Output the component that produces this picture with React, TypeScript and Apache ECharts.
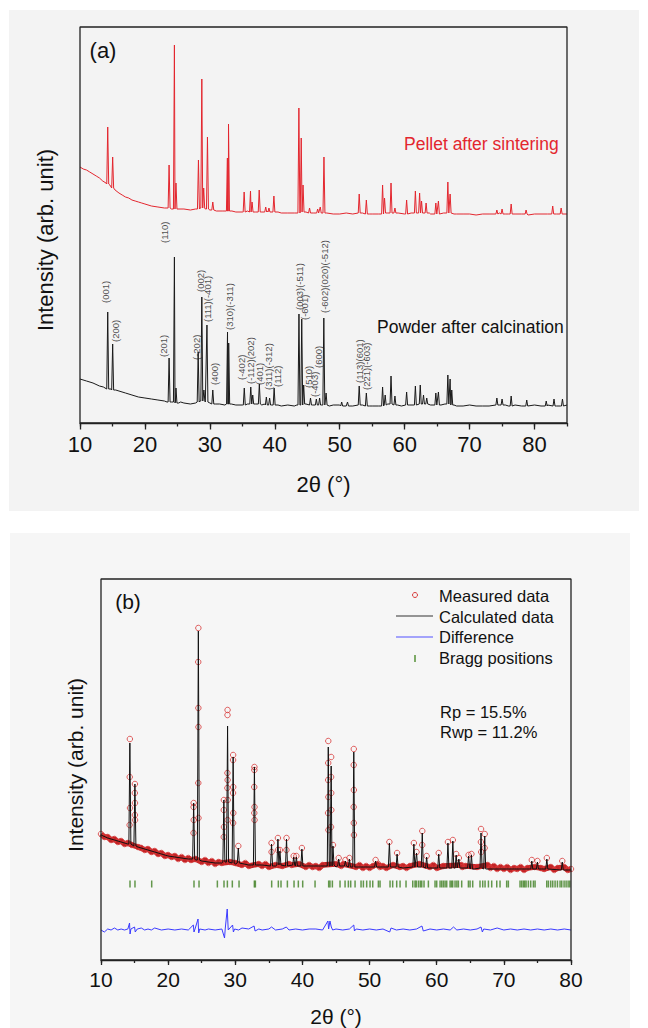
import { useEffect, useRef } from 'react';
import * as echarts from 'echarts';

type P = [number, number];
type Pk = [number, number, number];

// ---------- Panel (a) ----------
const pelletBase: P[] = [
  [10,256],[10.5,254],[11,253],[11.5,251],[12,249],[12.5,247],[13,245],[13.5,242],[14,240],[14.6,238],[15.4,233],[16,230],[16.5,228],[17,226],[17.5,225],[18,223],[18.5,222],[19,221],[19.5,220],[20,219],[21,217],[22,216],[23,215],[23.4,215],[24.1,214],[25,214],[26,214],[27,213],[27.8,214],[28.5,215],[29.3,214],[30,213],[31,212],[32,212],[33.4,212],[34,211],[35,211],[35.8,212],[37,211],[38,211],[38.9,212],[40.5,211],[41,210],[42,210],[43,210],[44.8,211],[46,210],[47.2,210],[48,210],[49,209],[50,209],[51,210],[52,209],[53.5,210],[54.6,209],[55,209],[56,209],[57.4,210],[59,210],[60,209],[61,210],[63.8,210],[64,209],[66,210],[67.6,209],[68,209],[69,209],[70,209],[71,208],[72,209],[73,209],[74.6,210],[75.5,209],[76,209],[77,209],[78,209],[79,208],[80,209],[81,209],[82,209],[83.4,209],[84,209],[85,209]
];
const pelletPeaks: Pk[] = [
  [14.27,296,239],[15.03,266,235],[23.72,258,215],[24.54,378,214],[24.78,240,214],[28.24,263,214],[28.76,344,215],[29.05,235,215],[29.63,286,214],[30.45,221,213],[32.7,265,212],[32.87,299,212],[35.28,231,211],[36.26,232,211],[36.5,221,211],[37.6,233,211],[38.6,216,211],[39.1,215,211],[39.86,227,211],[43.71,315,210],[44.07,285,211],[44.35,238,211],[45.35,215,210],[46.6,214,210],[47.0,216,210],[47.57,266,210],[53.0,229,210],[54.1,223,209],[56.6,238,209],[56.9,225,210],[57.9,240,210],[58.5,215,210],[60.3,223,209],[61.65,232,210],[62.3,230,210],[62.6,222,210],[63.3,220,210],[64.8,220,209],[65.2,222,209],[66.65,241,210],[67.0,229,210],[74.2,213,209],[75.0,214,209],[76.4,219,209],[78.7,213,209],[82.8,217,209],[84.1,215,209]
];
const powderBase: P[] = [
  [10,44],[11,42],[12,40],[13,37],[13.6,36],[14.8,34],[15.5,33],[16,32],[17,30],[18,28],[19,26],[20,25],[21,24],[22,23],[23,22],[23.4,21],[24.1,21],[25.2,20],[25.5,21],[26,20],[27,19],[27.8,20],[28.5,22],[29.3,21],[30,20],[30.9,19],[31.5,19],[32.3,18],[33.3,19],[34,18],[35,18],[35.8,19],[37,19],[38,18],[38.4,19],[39.5,18],[40.5,18],[41,17],[42,18],[43,17],[43.4,18],[44.8,19],[45.8,18],[47.2,18],[48.4,17],[49,18],[50,18],[51,17],[52,17],[53.5,18],[54.6,17],[55,17],[56,17],[57.4,19],[58.9,18],[59.5,17],[60.8,18],[61.3,18],[63,19],[64,18],[65.6,18],[66.2,19],[67.6,18],[68,17],[69,17],[70,18],[71,17],[72,17],[73,17],[74.6,18],[75.5,18],[76,17],[77,18],[78,17],[79,17],[80,18],[81,17],[82,18],[83.4,17],[84,17],[85,18]
];
const powderPeaks: Pk[] = [
  [14.27,111,34],[15.03,79,33],[23.72,65,21],[24.54,166,21],[24.78,35,20],[28.2,71,21],[28.76,126,22],[29.08,33,22],[29.55,98,21],[30.45,33,19],[32.72,91,19],[32.9,80,19],[35.3,35,18],[36.3,36,19],[36.6,28,19],[37.62,39,19],[38.7,26,18],[39.2,25,18],[39.9,35,18],[43.72,109,18],[44.15,104,18],[44.45,38,19],[45.5,25,18],[46.4,24,18],[46.9,25,18],[47.55,105,18],[47.9,30,18],[50.3,21,17],[51.2,21,17],[53.0,37,18],[54.1,30,17],[56.6,36,17],[57.0,28,18],[57.9,47,19],[58.5,27,18],[60.3,31,18],[61.65,37,18],[62.4,38,19],[62.9,28,19],[63.4,25,19],[64.8,30,18],[65.2,31,18],[66.65,48,19],[67.0,44,19],[67.25,33,18],[74.2,25,18],[75.0,24,18],[76.4,27,17],[78.8,23,17],[81.8,22,17],[83.0,24,17],[84.3,24,17]
];
const peakLabels: [string, number, number][] = [
  ['(001)',14.0,120],['(200)',15.5,81],['(201)',22.85,66],['(110)',23.0,180],['(-202)',27.9,63],['(002)',28.5,131],['(111)(-401)',29.7,101],['(400)',30.7,38],['(310)(-311)',33.0,93],['(-402)',34.8,43],['(-112)(202)',36.2,39],['(401)',37.6,38],['(311)(-312)',39.1,33],['(112)',40.4,36],['(003)(-511)',43.8,113],['(-601)',44.6,103],['(510)',45.2,35],['(-403)',46.1,26],['(600)',46.8,55],['(-602)(020)(-512)',47.6,110],['(113)(601)',53.0,40],['(221)(-603)',54.1,33]
];
const ticksA = [10,20,30,40,50,60,70,80];
const extentA = { xMin: 10, xMax: 85, yMin: 0, yMax: 396 };

// ---------- Panel (b) ----------
const measuredBase: P[] = [
  [10,126],[10.5,123],[11,123],[11.5,120],[12,121],[12.5,118],[13,119],[13.5,116],[14,117],[14.6,115],[15.5,113],[16,112],[16.5,110],[17,111],[17.5,108],[18,109],[18.5,106],[19,107],[19.5,104],[20,105],[20.5,103],[21,104],[21.5,101],[22,103],[22.5,100],[23,102],[23.4,100],[24.1,101],[25,98],[25.5,100],[26,97],[26.5,99],[27,96],[27.5,98],[28,97],[29.2,98],[30,97],[31,95],[31.5,97],[32,94],[33.5,96],[34,94],[34.5,96],[35,93],[36,95],[37,94],[38,96],[38.4,95],[39.5,96],[40.5,93],[41,95],[41.5,93],[42,94],[42.5,92],[43,95],[45,96],[45.8,94],[46.1,96],[48,93],[48.5,95],[49,92],[49.5,94],[50,92],[50.5,94],[51.3,96],[51.5,93],[52,94],[52.5,92],[53.5,95],[54.5,93],[55,94],[55.5,92],[56,94],[57.4,96],[59,93],[59.5,95],[60,92],[61,94],[63.7,95],[63.8,93],[64.3,94],[66,93],[67.6,95],[68,92],[68.5,94],[69,91],[69.5,93],[70,91],[70.5,93],[71,90],[71.5,92],[72,91],[72.5,93],[73,90],[73.5,92],[74.6,93],[75.5,92],[76,91],[77,93],[77.5,90],[78,92],[79,93],[79.5,90],[80,91]
];
const measuredPeaks: Pk[] = [
  [14.3,221,116],[15.05,176,114],[23.8,157,101],[24.5,332,100],[28.3,160,98],[28.85,250,98],[29.68,205,97],[30.45,114,97],[32.85,193,95],[35.4,117,94],[36.35,122,95],[36.65,110,95],[37.63,122,94],[38.7,104,95],[39.1,104,94],[39.92,112,94],[43.85,219,94],[44.28,203,94],[44.55,115,95],[45.4,102,94],[46.4,100,94],[47.0,102,93],[47.65,211,93],[50.9,100,93],[52.95,118,93],[54.1,107,93],[56.6,117,93],[57.0,108,93],[57.85,129,93],[58.5,104,92],[60.3,107,92],[61.67,118,92],[62.4,120,92],[62.9,106,92],[63.3,102,92],[64.75,105,92],[65.17,106,91],[66.6,131,92],[67.15,126,91],[74.16,100,91],[75.0,99,91],[76.4,102,91],[78.7,99,90]
];
const measuredFlank: P[] = [
  [14.28,183],[14.32,152],[14.26,135],
  [15.04,167],[15.06,157],[15.05,145],[15.07,140],
  [23.79,153],[23.81,140],[23.78,127],
  [24.48,298],[24.5,252],[24.51,233],[24.49,177],[24.52,142],
  [28.29,150],[28.31,133],[28.28,123],
  [28.84,245],[28.83,187],[28.86,180],[28.82,172],[28.87,160],[28.85,140],
  [29.67,200],[29.69,173],[29.66,167],[29.7,147],[29.68,137],
  [32.84,190],[32.82,173],[32.86,153],[32.83,147],[32.87,140],
  [35.4,108],[36.36,110],[37.62,110],
  [43.84,197],[43.83,180],[43.86,163],[43.82,147],[43.87,130],
  [44.27,183],[44.29,167],[44.3,150],[44.26,133],
  [47.64,195],[47.66,170],[47.63,153],[47.65,137],[47.67,125],
  [57.84,115],[66.58,118],[66.62,108],[67.14,112]
];
const calcBase: P[] = [
  [10,125],[11,122],[12,120],[13,118],[14,116],[15.5,113],[16,112],[17,110],[18,108],[19,106],[20,104],[21,103],[22,102],[23,101],[24.1,100],[25,99],[26,98],[27,97],[28,97],[30,96],[32,95],[34,95],[36,94],[40.5,94],[45,93],[50,93],[55,92],[60,92],[65.6,91],[70,91],[75.5,91],[80,90]
];
const calcPeaks: Pk[] = [
  [14.3,217,116],[15.05,176,114],[23.8,157,101],[24.5,329,100],[28.3,160,98],[28.85,234,98],[29.68,203,97],[30.45,112,97],[32.85,193,95],[35.4,116,94],[36.35,121,95],[36.65,109,95],[37.63,121,94],[38.7,103,95],[39.1,103,94],[39.92,111,94],[43.85,213,94],[44.28,194,94],[44.55,114,95],[45.4,101,94],[46.4,99,94],[47.0,101,93],[47.65,208,93],[50.9,99,93],[52.95,117,93],[54.1,106,93],[56.6,116,93],[57.0,107,93],[57.85,127,93],[58.5,103,92],[60.3,106,92],[61.67,117,92],[62.4,119,92],[62.9,105,92],[63.3,101,92],[64.75,104,92],[65.17,105,91],[66.6,127,92],[67.15,124,91],[74.16,99,91],[75.0,98,91],[76.4,101,91],[78.7,98,90]
];
const difference: P[] = [
  [10,30],[10.5,28],[11,31],[11.5,30],[12,32],[12.5,30],[13,31],[13.5,30],[14,31],[14.25,37],[14.33,26],[14.45,31],[15,33],[15.1,28],[15.4,31],[16,32],[16.5,30],[17,31],[17.5,30],[18,32],[19,30],[20,31],[21,30],[22,31],[23,30],[23.75,35],[23.85,28],[24,31],[24.45,41],[24.55,27],[24.7,31],[25.5,30],[26,31],[27,30],[28,31],[28.4,22],[28.5,31],[28.8,51],[28.95,30],[29.6,35],[29.72,28],[29.9,31],[30.5,30],[31,32],[32,31],[32.8,34],[32.95,29],[33.5,31],[34,30],[35,31],[35.4,33],[36,30],[37,31],[37.6,33],[38,30],[39,31],[40,30],[41,31],[42,31],[43,30],[43.8,39],[43.9,31],[44.1,39],[44.3,33],[44.5,30],[45,31],[46,30],[47,31],[47.65,35],[47.75,29],[48,31],[49,30],[50,31],[51,30],[52,31],[53,28],[53.2,32],[54,30],[55,31],[56,30],[57,31],[57.8,34],[58,29],[59,31],[60,30],[61,31],[62,30],[62.5,33],[63,30],[64,31],[65,30],[66,31],[66.6,33],[66.8,28],[67,31],[68,30],[69,32],[70,30],[71,31],[72,30],[73,31],[74,30],[75,31],[76,30],[77,31],[78,30],[79,31],[80,30]
];
const braggPositions: number[] = [
  14.32,15.06,17.55,23.85,24.6,27.33,28.32,28.82,29.56,30.56,32.84,32.99,35.42,36.41,36.81,37.76,38.75,39.39,40.04,41.88,43.91,44.1,44.46,45.6,46.35,46.84,47.19,47.84,48.73,49.08,49.57,50.07,50.47,51.31,51.56,53.05,53.44,54.04,54.54,55.43,56.43,56.77,56.95,57.27,57.55,57.77,58.11,58.76,59.75,60.0,60.5,60.75,61.0,61.25,61.49,61.99,62.2,62.38,62.73,63.0,63.23,63.72,64.72,64.97,65.36,66.45,66.85,67.2,67.7,68.19,68.94,69.43,70.42,70.67,72.41,72.66,72.91,73.1,73.31,73.65,74.0,74.4,74.65,76.39,76.64,76.98,77.28,77.63,77.98,78.37,78.62,78.97,79.27,79.57,79.82
];
const ticksB = [10,20,30,40,50,60,70,80];
const extentB = { xMin: 10, xMax: 80, yMin: 0, yMax: 381 };

const FONT = '"Liberation Sans", Arial, sans-serif';
const FRAME = '#222222';
const GRID_A = { left: 80, top: 27, width: 487, height: 396 };
const GRID_B = { left: 101, top: 579, width: 470, height: 381 };

function buildTrace(base: P[], peaks: Pk[], hw: number): P[] {
  const pts: P[] = [];
  for (const [x, y] of base) {
    if (!peaks.some(([p]) => Math.abs(x - p) <= hw + 0.05)) pts.push([x, y]);
  }
  for (const [p, top, b] of peaks) {
    pts.push([p - hw, b], [p, top], [p + hw, b]);
  }
  pts.sort((a, b) => a[0] - b[0]);
  return pts;
}

function boxPath(e: { xMin: number; xMax: number; yMin: number; yMax: number }): P[] {
  return [[e.xMin, e.yMin], [e.xMax, e.yMin], [e.xMax, e.yMax], [e.xMin, e.yMax], [e.xMin, e.yMin]];
}

function txt(text: string, x: number, y: number, size: number, opts: any = {}) {
  return {
    type: 'text',
    x,
    y,
    rotation: opts.rotation || 0,
    z: 50,
    silent: true,
    style: {
      text,
      fill: opts.color || '#111',
      fontSize: size,
      fontFamily: FONT,
      textAlign: opts.align || 'left',
      textVerticalAlign: 'middle',
    },
  };
}

export default function App() {
  const ref = useRef<HTMLDivElement>(null);
  useEffect(() => {
    if (!ref.current) return;
    const chart = echarts.init(ref.current, undefined, { renderer: 'svg' });

    const pelletData = buildTrace(pelletBase, pelletPeaks, 0.15);
    const powderData = buildTrace(powderBase, powderPeaks, 0.15);
    const calcData = buildTrace(calcBase, calcPeaks, 0.15);
    const measuredPts: P[] = [
      ...measuredBase,
      ...measuredPeaks.map(([p, t]) => [p, t] as P),
      ...measuredFlank,
    ];
    const bandData = [...measuredBase].sort((a, b) => a[0] - b[0]);

    const majorAxis = (gi: number, max: number, ticks: number[], fs: number, len: number, margin: number) => ({
      gridIndex: gi,
      type: 'value',
      min: 10,
      max,
      interval: 10,
      position: 'bottom',
      axisLine: { show: true, onZero: false, lineStyle: { color: FRAME, width: 1.3 } },
      axisTick: { show: true, inside: false, length: len, customValues: ticks, lineStyle: { color: FRAME, width: 1.3 } },
      axisLabel: {
        show: true,
        margin,
        fontSize: fs,
        color: '#111',
        fontFamily: FONT,
        customValues: ticks,
        formatter: (v: number) => (ticks.indexOf(v) >= 0 ? String(v) : ''),
      },
      splitLine: { show: false },
    });
    const minorAxis = (gi: number, max: number, len: number) => ({
      gridIndex: gi,
      type: 'value',
      min: 10,
      max,
      interval: 5,
      position: 'bottom',
      axisLine: { show: false, onZero: false },
      axisTick: { show: true, inside: false, length: len, lineStyle: { color: FRAME, width: 1.3 } },
      axisLabel: { show: false },
      splitLine: { show: false },
    });
    const frameSeries = (xi: number, yi: number, e: any) => ({
      name: 'frame',
      type: 'line',
      xAxisIndex: xi,
      yAxisIndex: yi,
      data: boxPath(e),
      symbol: 'none',
      clip: false,
      silent: true,
      lineStyle: { color: FRAME, width: 1.3 },
      z: 10,
    });

    const option: any = {
      animation: false,
      backgroundColor: '#ffffff',
      textStyle: { fontFamily: FONT },
      grid: [GRID_A, GRID_B],
      xAxis: [
        majorAxis(0, 85, ticksA, 22, 6.5, 10),
        minorAxis(0, 85, 3.5),
        majorAxis(1, 80, ticksB, 21, 5, 9),
        minorAxis(1, 80, 3),
      ],
      yAxis: [
        { gridIndex: 0, type: 'value', min: 0, max: 396, show: false },
        { gridIndex: 1, type: 'value', min: 0, max: 381, show: false },
      ],
      graphic: [
        { type: 'rect', z: -1, silent: true, shape: { x: 9, y: 10, width: 630, height: 501 }, style: { fill: '#f3f3f3' } },
        { type: 'rect', z: -1, silent: true, shape: { x: 10, y: 533, width: 620, height: 495 }, style: { fill: '#f6f6f6' } },
        txt('(a)', 103, 50, 22, { align: 'center' }),
        txt('(b)', 128, 601, 21, { align: 'center' }),
        txt('Pellet after sintering', 404, 144, 17.5, { color: '#e3262e' }),
        txt('Powder after calcination', 377, 327, 17.5),
        txt('Intensity (arb. unit)', 45, 240, 22, { align: 'center', rotation: Math.PI / 2 }),
        txt('Intensity (arb. unit)', 75, 765, 21, { align: 'center', rotation: Math.PI / 2 }),
        txt('2θ (°)', 323.5, 484, 22, { align: 'center' }),
        txt('2θ (°)', 336, 1016, 21, { align: 'center' }),
        { type: 'circle', z: 50, silent: true, shape: { cx: 415, cy: 595, r: 2.5 }, style: { fill: 'none', stroke: '#d83a3a', lineWidth: 1 } },
        { type: 'rect', z: 50, silent: true, shape: { x: 396, y: 615.5, width: 37, height: 1 }, style: { fill: '#333' } },
        { type: 'rect', z: 50, silent: true, shape: { x: 396, y: 636.5, width: 37, height: 1 }, style: { fill: '#5050ff' } },
        { type: 'rect', z: 50, silent: true, shape: { x: 414.3, y: 655, width: 1.4, height: 7 }, style: { fill: '#4a8a2a' } },
        txt('Measured data', 439, 596, 16.5),
        txt('Calculated data', 439, 617, 16.5),
        txt('Difference', 439, 637, 16.5),
        txt('Bragg positions', 439, 658, 16.5),
        txt('Rp = 15.5%', 440, 712, 16.5),
        txt('Rwp = 11.2%', 440, 732, 16.5),
      ],
      series: [
        frameSeries(0, 0, extentA),
        frameSeries(2, 1, extentB),
        {
          name: 'Pellet after sintering',
          type: 'line',
          xAxisIndex: 0,
          yAxisIndex: 0,
          data: pelletData,
          symbol: 'none',
          lineStyle: { color: '#e3262e', width: 1 },
        },
        {
          name: 'Powder after calcination',
          type: 'line',
          xAxisIndex: 0,
          yAxisIndex: 0,
          data: powderData,
          symbol: 'none',
          lineStyle: { color: '#1a1a1a', width: 1 },
        },
        {
          name: 'labels',
          type: 'scatter',
          xAxisIndex: 0,
          yAxisIndex: 0,
          symbolSize: 0,
          data: peakLabels.map(([n, x, y]) => ({ name: n, value: [x, y] })),
          label: {
            show: true,
            position: 'inside',
            rotate: 90,
            align: 'left',
            verticalAlign: 'middle',
            formatter: (p: any) => p.name,
            fontSize: 9.5,
            color: '#222',
            fontFamily: FONT,
          },
          z: 5,
        },
        {
          name: 'band',
          type: 'line',
          xAxisIndex: 2,
          yAxisIndex: 1,
          data: bandData,
          symbol: 'none',
          lineStyle: { color: '#c42426', width: 5.5 },
          z: 2,
        },
        {
          name: 'Measured data',
          type: 'scatter',
          xAxisIndex: 2,
          yAxisIndex: 1,
          data: measuredPts,
          symbol: 'circle',
          symbolSize: 5.5,
          itemStyle: { color: 'rgba(0,0,0,0)', borderColor: '#d83a3a', borderWidth: 1 },
          z: 3,
        },
        {
          name: 'Calculated data',
          type: 'line',
          xAxisIndex: 2,
          yAxisIndex: 1,
          data: calcData,
          symbol: 'none',
          lineStyle: { color: '#111', width: 1 },
          z: 4,
        },
        {
          name: 'Difference',
          type: 'line',
          xAxisIndex: 2,
          yAxisIndex: 1,
          data: difference,
          symbol: 'none',
          lineStyle: { color: '#3a3aff', width: 1 },
          z: 4,
        },
        {
          name: 'Bragg positions',
          type: 'scatter',
          xAxisIndex: 2,
          yAxisIndex: 1,
          data: braggPositions.map((b) => [b, 76]),
          symbol: 'rect',
          symbolSize: [1.5, 7],
          itemStyle: { color: '#3f7f22' },
          z: 4,
        },
      ],
    };
    chart.setOption(option);
    return () => chart.dispose();
  }, []);
  return <div ref={ref} style={{ position: 'absolute', left: 0, top: 0, width: 648, height: 1028 }} />;
}
